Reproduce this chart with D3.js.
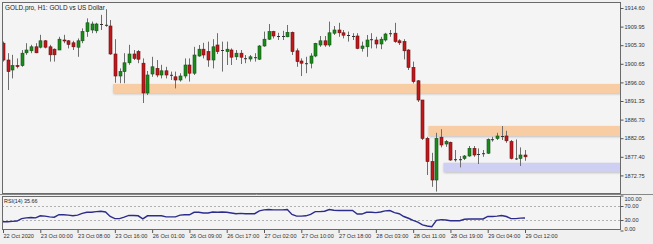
<!DOCTYPE html>
<html><head><meta charset="utf-8">
<script src="https://cdn.jsdelivr.net/npm/d3@7/dist/d3.min.js"></script>
<style>
html,body{margin:0;padding:0;background:#f0f0f0;}
svg{display:block;}
text{font-family:"Liberation Sans",Arial,sans-serif;fill:#222;}
</style></head>
<body><svg id="c" width="653" height="244"></svg>
<script>
// ---- data ----
const opens  = [1905.8,1901.6,1899.1,1900.2,1900.2,1903.4,1903.9,1904.9,1904.8,1906.4,1904.9,1904.3,1904.1,1906.6,1906.4,1905.9,1904.8,1906.4,1908.7,1909.1,1908.9,1910.5,1910.4,1910.1,1903.1,1897.6,1898.7,1900.9,1903.1,1903.7,1900.8,1893.35,1898.1,1899.5,1897.85,1898.9,1897.9,1897.4,1896.6,1897.6,1900.35,1898.3,1902.6,1904.3,1903.7,1901.6,1905.35,1904.1,1903.7,1904.1,1902.4,1903.3,1902.05,1901.85,1902.3,1901.8,1905.1,1906.8,1908.7,1907.6,1907.5,1907.4,1908.5,1903.9,1901.35,1900.8,1900.8,1902.6,1905.35,1906.4,1905.35,1908.3,1909.1,1908.4,1907.85,1907.6,1907.6,1904.5,1904.9,1906.8,1906.6,1905.6,1906.6,1908.3,1908.3,1906.4,1906.2,1904.1,1899.75,1896.4,1891.6,1882.0,1876.2,1871.6,1882.3,1880.6,1881.0,1876.8,1876.75,1877.0,1877.6,1879.5,1878.1,1878.25,1878.3,1881.75,1882.0,1882.6,1882.6,1881.2,1877.0,1877.0,1877.85];
const highs  = [1906.2,1903.3,1902.9,1902.0,1904.1,1905.8,1905.4,1905.8,1907.9,1906.6,1905.4,1904.5,1907.4,1907.9,1906.6,1906.4,1907.0,1909.5,1912.0,1911.2,1910.9,1912.9,1914.3,1911.6,1906.8,1899.5,1903.3,1905.4,1904.1,1904.1,1902.0,1898.85,1902.4,1901.6,1900.4,1899.9,1898.7,1898.7,1898.3,1902.0,1902.0,1904.9,1905.35,1905.9,1906.2,1906.8,1908.3,1906.2,1906.2,1904.5,1904.1,1904.1,1902.85,1902.85,1903.3,1905.35,1908.7,1910.6,1908.9,1908.4,1908.9,1910.35,1908.7,1904.5,1902.0,1902.4,1903.3,1905.9,1907.6,1907.6,1911.2,1910.1,1910.9,1909.1,1908.7,1908.3,1908.3,1906.2,1907.85,1908.3,1907.4,1907.4,1908.4,1909.1,1910.9,1906.8,1906.8,1904.3,1901.2,1896.6,1891.6,1882.4,1878.4,1883.4,1884.3,1881.6,1881.2,1879.1,1877.6,1877.85,1880.1,1880.1,1879.5,1879.1,1882.0,1882.4,1883.4,1885.1,1883.9,1881.6,1881.75,1879.75,1879.1];
const lows   = [1901.2,1894.1,1897.0,1899.5,1899.9,1902.9,1903.3,1903.3,1904.5,1904.5,1901.2,1901.2,1904.1,1905.8,1904.5,1904.1,1902.4,1905.8,1907.4,1908.3,1908.3,1909.1,1909.9,1902.9,1895.9,1895.8,1895.8,1900.4,1901.6,1900.8,1890.85,1892.85,1897.4,1897.3,1897.0,1897.0,1896.6,1894.5,1896.2,1897.0,1896.2,1897.85,1902.4,1902.0,1899.9,1899.5,1903.1,1898.7,1900.35,1900.35,1901.6,1900.6,1900.8,1901.2,1901.2,1901.6,1904.9,1906.6,1907.0,1906.6,1906.6,1907.3,1902.85,1899.9,1897.6,1898.3,1899.5,1902.3,1904.9,1904.9,1904.9,1907.85,1907.4,1907.0,1906.2,1906.6,1904.3,1903.7,1902.4,1904.5,1904.5,1904.3,1906.2,1907.4,1905.9,1905.35,1901.75,1899.1,1895.75,1891.1,1881.6,1872.85,1869.9,1868.7,1879.75,1879.9,1876.4,1876.2,1874.75,1876.6,1877.4,1877.4,1875.6,1877.4,1878.1,1881.2,1881.6,1881.6,1880.9,1876.75,1876.6,1875.1,1876.4];
const closes = [1901.6,1898.7,1900.2,1900.0,1903.3,1904.1,1904.9,1903.4,1906.4,1904.8,1902.9,1902.9,1906.8,1906.4,1905.5,1904.9,1906.4,1908.7,1910.9,1910.6,1910.6,1910.6,1910.3,1903.1,1897.6,1898.7,1900.9,1903.1,1902.0,1901.8,1893.35,1897.85,1899.9,1897.85,1898.9,1897.85,1897.8,1896.6,1897.6,1900.35,1898.3,1902.85,1904.3,1902.85,1901.6,1904.9,1903.7,1904.0,1904.3,1902.3,1903.3,1902.3,1902.0,1902.4,1902.25,1905.1,1906.8,1908.7,1907.6,1907.5,1907.6,1908.5,1903.7,1901.2,1900.8,1900.75,1902.6,1905.75,1906.4,1905.35,1908.4,1909.1,1908.4,1907.8,1907.8,1907.55,1904.5,1905.1,1906.6,1906.75,1905.6,1906.8,1908.1,1908.25,1906.2,1905.9,1903.9,1899.75,1896.2,1891.6,1882.0,1876.2,1871.6,1882.0,1880.35,1881.2,1876.6,1876.75,1876.8,1877.6,1879.5,1877.85,1878.05,1878.3,1881.75,1881.8,1882.6,1882.55,1881.4,1877.0,1876.95,1877.85,1877.4];
const rsi = [25,25,26,27,34,36,37,36,42,41,39,38,45,45,44,42,44,49,52,52,54,55,53,40,34,34,38,43,43,42,33,42,42,42,42,39,39,39,44,45,45,52,52,50,50,53,52,53,52,50,48,49,48,48,48,56,59,60,59,59,59,60,46,41,41,42,46,54,54,55,60,58,57,57,57,57,47,47,52,52,51,53,56,57,51,48,40,35,29,24,16,13,11,29,31,30,28,28,28,32,33,33,33,33,40,40,41,43,40,34,34,35.5,35.66];
const timeLabels = ["22 Oct 2020","23 Oct 00:00","23 Oct 08:00","23 Oct 16:00","26 Oct 01:00","26 Oct 09:00","26 Oct 17:00","27 Oct 02:00","27 Oct 10:00","27 Oct 18:00","28 Oct 03:00","28 Oct 11:00","28 Oct 19:00","29 Oct 04:00","29 Oct 12:00"];
const timeLabelIdx = [0,8,16,24,32,40,48,56,64,72,80,88,96,104,112];
const priceTicks = [1914.60,1909.95,1905.30,1900.65,1896.00,1891.35,1886.70,1882.05,1877.40,1872.75];
const rsiTicks = [100,70,30,0];
const rsiLevels = [70,30];
const zoneStart = [23.6,91.3,94.5];
const zoneHigh  = [1895.6,1885.1,1875.9];
const zoneLow   = [1893.3,1882.6,1873.6];
const zoneColor = ["#f8cda3","#f8cda3","#cfcff4"];
const title = "GOLD.pro, H1:  GOLD vs US Dollar";
const rsiTitle = "RSI(14) 35.66";

// ---- layout ----
const svg = d3.select("#c");
const L = 2, R = 621, T = 2, MB = 194, RT = 196, RB = 230;
const x = d3.scaleLinear().domain([0,112]).range([3,525]);
const y = d3.scaleLinear().domain([1872.75,1914.60]).range([175.4,8]);
const yr = d3.scaleLinear().domain([0,100]).range([230.5,195.5]);

svg.append("rect").attr("x",L).attr("y",T).attr("width",R-L).attr("height",MB-T).attr("fill","#f4f4f4");
svg.append("rect").attr("x",L).attr("y",RT).attr("width",R-L).attr("height",RB-RT).attr("fill","#f4f4f4");

const defs = svg.append("defs");
const clip = defs.append("clipPath").attr("id","mc");
clip.append("rect").attr("x",L).attr("y",T).attr("width",R-L).attr("height",MB-T);
const f = defs.append("filter").attr("id","sh").attr("x","-5%").attr("y","-50%").attr("width","110%").attr("height","200%");
f.append("feDropShadow").attr("dx",0.5).attr("dy",1).attr("stdDeviation",0.8).attr("flood-color","#999").attr("flood-opacity",0.6);

const main = svg.append("g").attr("clip-path","url(#mc)");
// zones
main.selectAll("rect.zone").data(zoneStart).join("rect").attr("class","zone")
  .attr("x",d=>x(d)).attr("y",(d,i)=>y(zoneHigh[i])).attr("width",d=>R-x(d))
  .attr("height",(d,i)=>y(zoneLow[i])-y(zoneHigh[i])).attr("fill",(d,i)=>zoneColor[i])
  .attr("filter","url(#sh)");

// candles
const idx = d3.range(opens.length);
main.selectAll("line.wick").data(idx).join("line").attr("class","wick")
  .attr("x1",i=>Math.round(x(i))+0.5).attr("x2",i=>Math.round(x(i))+0.5)
  .attr("y1",i=>y(highs[i])).attr("y2",i=>y(lows[i])).attr("stroke","#6e6e6e").attr("stroke-width",1);
main.selectAll("rect.body").data(idx).join("rect").attr("class","body")
  .attr("x",i=>Math.round(x(i))-1).attr("width",3)
  .attr("y",i=>y(Math.max(opens[i],closes[i])))
  .attr("height",i=>Math.max(1,Math.abs(y(opens[i])-y(closes[i]))))
  .attr("fill",i=>Math.abs(opens[i]-closes[i])<0.15?"#333":(closes[i]>opens[i]?"#1a8a1a":"#c0181c"))
  .attr("stroke",i=>Math.abs(opens[i]-closes[i])<0.15?"none":(closes[i]>opens[i]?"#145214":"#6a1010"))
  .attr("stroke-width",0.6);

// RSI
const rsiG = svg.append("g");
rsiG.selectAll("line.lvl").data(rsiLevels).join("line").attr("x1",L).attr("x2",R)
  .attr("y1",d=>Math.round(yr(d))+0.5).attr("y2",d=>Math.round(yr(d))+0.5)
  .attr("stroke","#b0b0b0").attr("stroke-dasharray","2,2").attr("stroke-width",1);
rsiG.append("path").datum(rsi).attr("fill","none").attr("stroke","#2c2c8c").attr("stroke-width",1.4)
  .attr("d",d3.line().x((d,i)=>x(i)).y(d=>yr(d)));

// frames
const fr = svg.append("g").attr("fill","none").attr("stroke","#6a6a6a");
fr.append("rect").attr("x",L+0.5).attr("y",T+0.5).attr("width",R-L-1).attr("height",MB-T-1);
fr.append("rect").attr("x",L+0.5).attr("y",RT+0.5).attr("width",R-L-1).attr("height",RB-RT-1);
svg.append("line").attr("x1",0).attr("x2",653).attr("y1",MB+0.5).attr("y2",MB+0.5).attr("stroke","#888");

// right axis (main)
const ya = d3.axisRight(y).tickValues(priceTicks).tickSize(3).tickFormat(d3.format(".2f"));
const gya = svg.append("g").attr("transform",`translate(${R-0.5},0)`).call(ya);
const yra = d3.axisRight(yr).tickValues(rsiTicks).tickSize(3).tickFormat(d3.format(".2f"));
const gyr = svg.append("g").attr("transform",`translate(${R-0.5},0)`).call(yra);
[gya,gyr].forEach(g=>{
  g.select(".domain").remove();
  g.selectAll(".tick line").attr("stroke","#555");
  g.selectAll(".tick text").attr("x",4).style("font-size","5.6px").style("fill","#333").attr("font-family",null);
});
gyr.selectAll(".tick text").attr("dy",(d)=>d===100?"0.9em":(d===0?"0.05em":"0.32em"));

// bottom axis
const xa = d3.axisBottom(x).tickValues(timeLabelIdx).tickSize(3).tickFormat((d,i)=>timeLabels[i]);
const gxa = svg.append("g").attr("transform",`translate(0,${RB})`).call(xa);
gxa.select(".domain").remove();
gxa.selectAll(".tick line").attr("stroke","#555");
gxa.selectAll(".tick text").attr("text-anchor","start").attr("x",0).attr("y",4.5).attr("dy","0.71em")
  .style("font-size","5.6px").style("fill","#333").attr("font-family",null);

// titles
svg.append("text").attr("x",5).attr("y",10).style("font-size","6.4px").text(title);
svg.append("text").attr("x",4).attr("y",203).style("font-size","5.4px").text(rsiTitle);
</script></body></html>
